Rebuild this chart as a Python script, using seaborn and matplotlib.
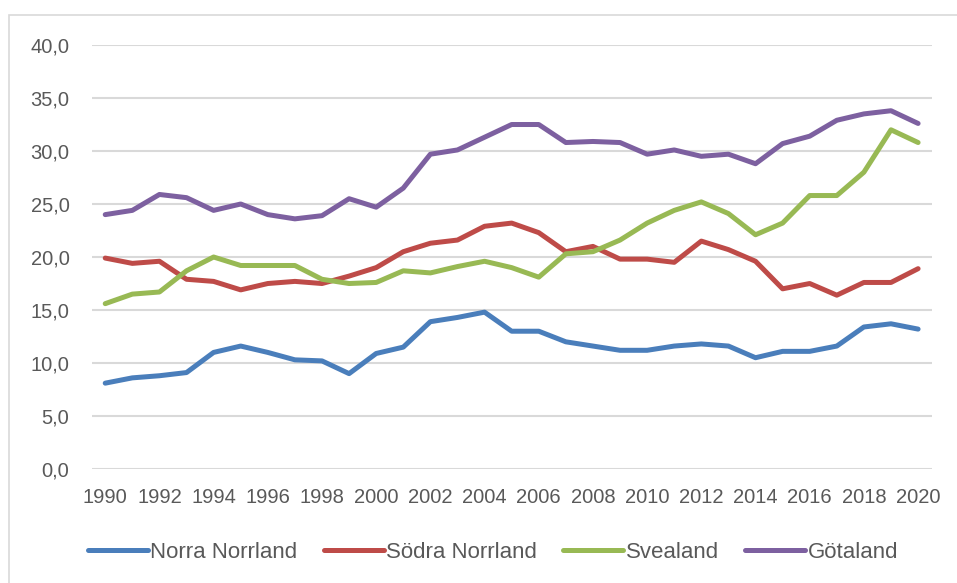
import numpy as np
import pandas as pd
import matplotlib
matplotlib.use("Agg")
import matplotlib.pyplot as plt
import seaborn as sns
from matplotlib.patches import Rectangle

# ---------------------------------------------------------------------------
# Data
# ---------------------------------------------------------------------------
years = list(range(1990, 2021))

norra_norrland = [8.1, 8.6, 8.8, 9.1, 11.0, 11.6, 11.0, 10.3, 10.2, 9.0,
                  10.9, 11.5, 13.9, 14.3, 14.8, 13.0, 13.0, 12.0, 11.6, 11.2,
                  11.2, 11.6, 11.8, 11.6, 10.5, 11.1, 11.1, 11.6, 13.4, 13.7,
                  13.2]
sodra_norrland = [19.9, 19.4, 19.6, 17.9, 17.7, 16.9, 17.5, 17.7, 17.5, 18.2,
                  19.0, 20.5, 21.3, 21.6, 22.9, 23.2, 22.3, 20.5, 21.0, 19.8,
                  19.8, 19.5, 21.5, 20.7, 19.6, 17.0, 17.5, 16.4, 17.6, 17.6,
                  18.9]
svealand = [15.6, 16.5, 16.7, 18.7, 20.0, 19.2, 19.2, 19.2, 17.9, 17.5,
            17.6, 18.7, 18.5, 19.1, 19.6, 19.0, 18.1, 20.3, 20.5, 21.6,
            23.2, 24.4, 25.2, 24.1, 22.1, 23.2, 25.8, 25.8, 28.0, 32.0,
            30.8]
gotaland = [24.0, 24.4, 25.9, 25.6, 24.4, 25.0, 24.0, 23.6, 23.9, 25.5,
            24.7, 26.5, 29.7, 30.1, 31.3, 32.5, 32.5, 30.8, 30.9, 30.8,
            29.7, 30.1, 29.5, 29.7, 28.8, 30.7, 31.4, 32.9, 33.5, 33.8,
            32.6]

series_names = ["Norra Norrland", "Södra Norrland", "Svealand", "Götaland"]
series_vals = [norra_norrland, sodra_norrland, svealand, gotaland]
colors = ["#4A7EBB", "#BE4B48", "#98B954", "#7D60A0"]

df = pd.concat(
    [pd.DataFrame({"year": years, "value": v, "region": n})
     for n, v in zip(series_names, series_vals)],
    ignore_index=True,
)

# ---------------------------------------------------------------------------
# Plot
# ---------------------------------------------------------------------------
sns.set_theme(style="white")
plt.rcParams["font.family"] = ["Liberation Sans", "DejaVu Sans"]
TXT = "#595959"

fig = plt.figure(figsize=(9.57, 5.83), dpi=100)
ax = fig.add_axes([0.0958, 0.1955, 0.8777, 0.7273])

sns.lineplot(data=df, x="year", y="value", hue="region",
             hue_order=series_names, palette=colors, linewidth=3.6,
             ax=ax, legend=False)
for ln in ax.get_lines():
    ln.set_solid_capstyle("round")
    ln.set_solid_joinstyle("round")

ax.set_xlim(1989.5, 2020.5)
ax.set_ylim(0, 40)
ax.set_yticks(np.arange(0, 41, 5))
ax.set_yticklabels([f"{v:.1f}".replace(".", ",") for v in np.arange(0, 41, 5)])
ax.set_xticks(years[::2])
ax.set_xticklabels([str(y) for y in years[::2]])

ax.yaxis.grid(True, color="#D9D9D9", linewidth=1.5)
ax.set_axisbelow(True)
for s in ax.spines.values():
    s.set_visible(False)
ax.tick_params(axis="both", length=0, colors=TXT, labelsize=14.5)
ax.tick_params(axis="y", pad=16)
ax.tick_params(axis="x", pad=14)
ax.set_xlabel("")
ax.set_ylabel("")

# legend built from the plotted lines
handles = ax.get_lines()[:4]
fig.legend(handles, series_names, loc="center", bbox_to_anchor=(0.515, 0.053),
           ncol=4, frameon=False, fontsize=16, handlelength=2.7,
           handletextpad=0.1, columnspacing=1.2, labelcolor=TXT)

# chart area border (cropped on right/bottom in the reference)
fig.patches.append(Rectangle((9 / 957, -0.1), 1.2, 1 - 15 / 583 + 0.1,
                             transform=fig.transFigure, fill=False,
                             edgecolor="#D9D9D9", linewidth=1.2))

fig.savefig("out.png", dpi=100)
